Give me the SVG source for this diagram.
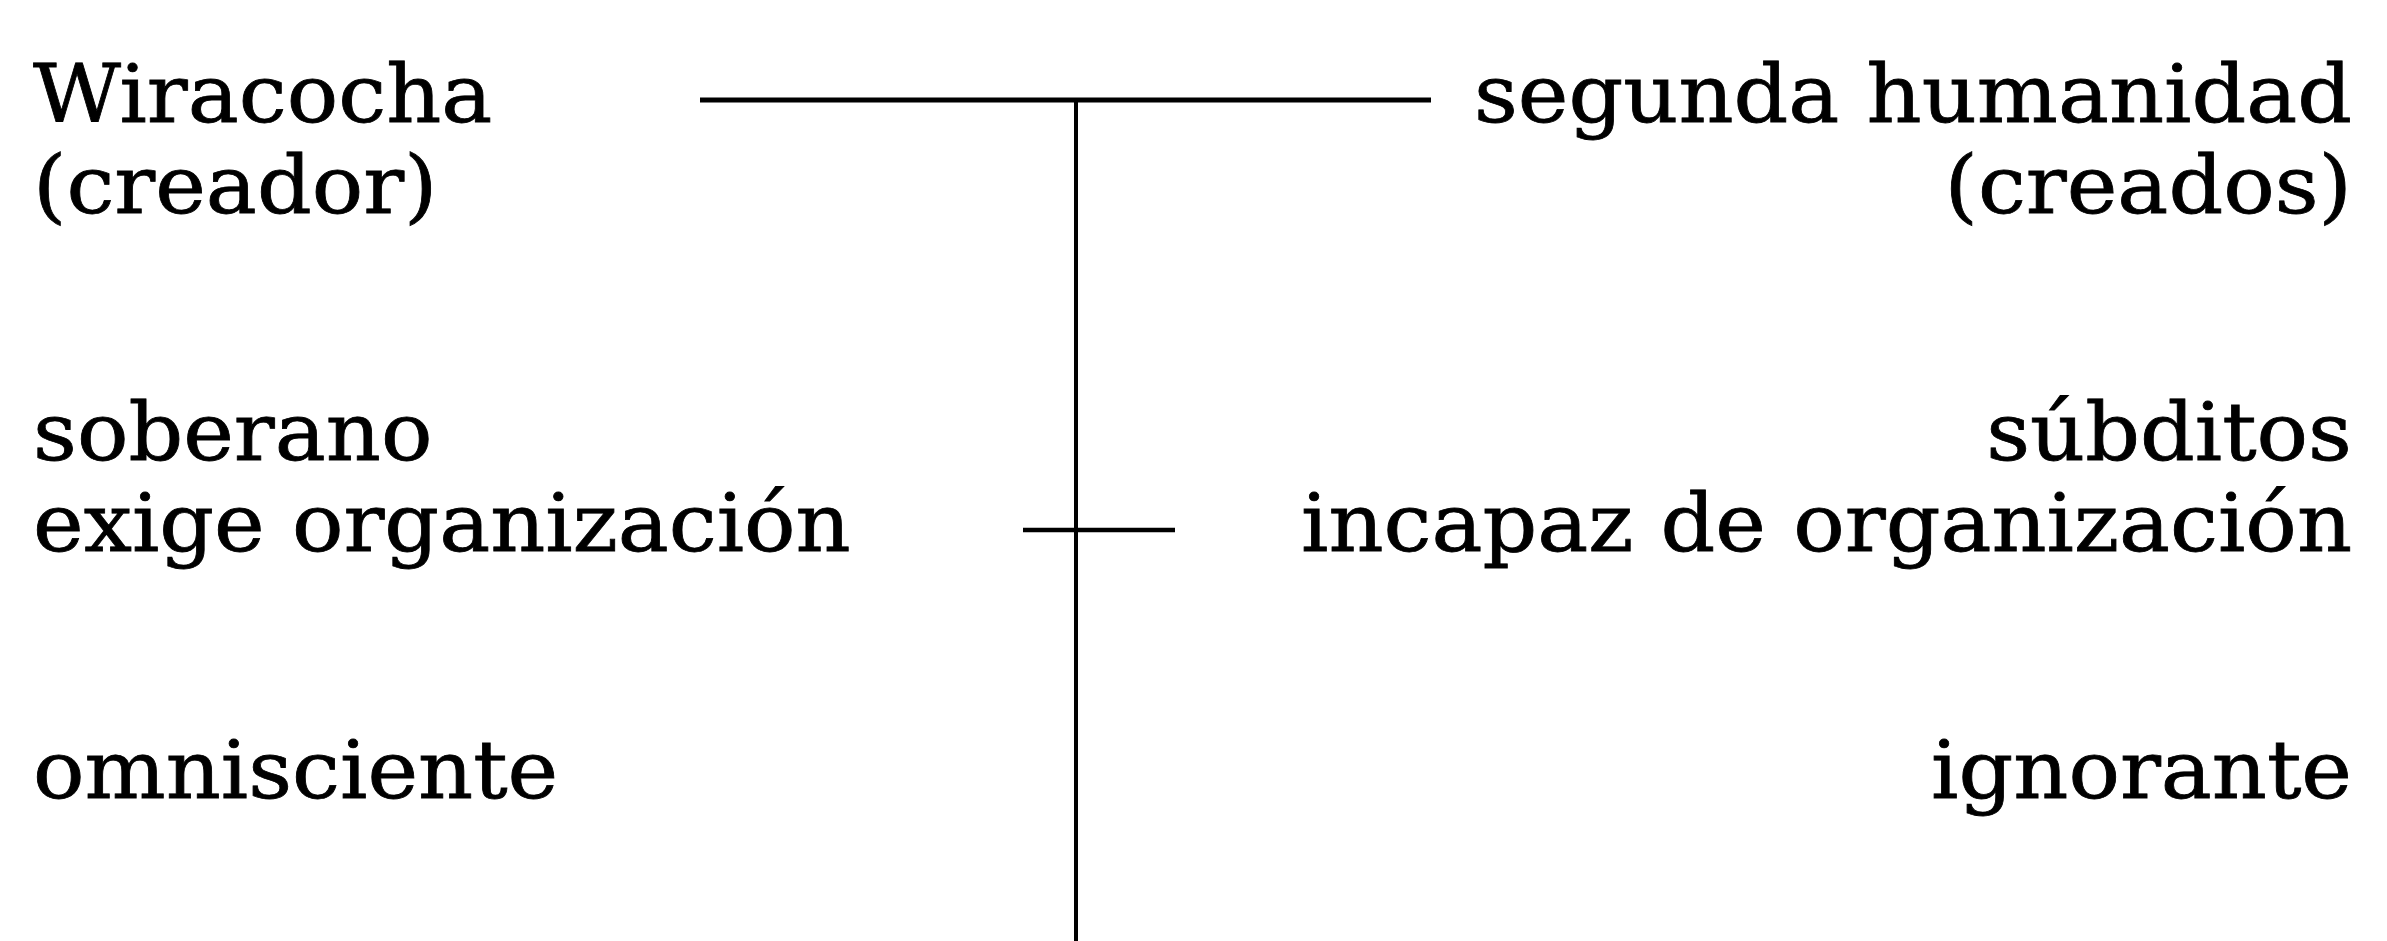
<svg xmlns="http://www.w3.org/2000/svg" width="2387" height="941" viewBox="0 0 2387 941">
<style>
.t{font-family:"DejaVu Serif","Liberation Serif",serif;font-size:80px;fill:#000;stroke:#000;stroke-width:0.8}
.l{text-anchor:start}
.r{text-anchor:end}
.c{stroke:#000;fill:none;stroke-linecap:butt}
</style>
<rect width="2387" height="941" fill="#fff"/>
<g id="connectors">
<line class="c" x1="700" y1="100" x2="1431" y2="100" stroke-width="5"/>
<line class="c" x1="1076" y1="100" x2="1076" y2="941" stroke-width="4"/>
<line class="c" x1="1023" y1="530" x2="1175" y2="530" stroke-width="4.5"/>
</g>
<g id="left">
<g id="n-wiracocha"><text class="t l" transform="translate(33,122) scale(1.07,1)">Wiracocha</text></g>
<g id="n-creador"><text class="t l" transform="translate(33,213) scale(1.07,1)">(creador)</text></g>
<g id="n-soberano"><text class="t l" transform="translate(33,460) scale(1.07,1)">soberano</text></g>
<g id="n-exige"><text class="t l" transform="translate(33,551) scale(1.07,1)">exige organización</text></g>
<g id="n-omnisciente"><text class="t l" transform="translate(33,798) scale(1.07,1)">omnisciente</text></g>
</g>
<g id="right">
<g id="n-segunda"><text class="t r" transform="translate(2352,122) scale(1.07,1)">segunda humanidad</text></g>
<g id="n-creados"><text class="t r" transform="translate(2352,213) scale(1.07,1)">(creados)</text></g>
<g id="n-subditos"><text class="t r" transform="translate(2352,460) scale(1.07,1)">súbditos</text></g>
<g id="n-incapaz"><text class="t r" transform="translate(2352,551) scale(1.07,1)">incapaz de organización</text></g>
<g id="n-ignorante"><text class="t r" transform="translate(2352,798) scale(1.07,1)">ignorante</text></g>
</g>
</svg>
